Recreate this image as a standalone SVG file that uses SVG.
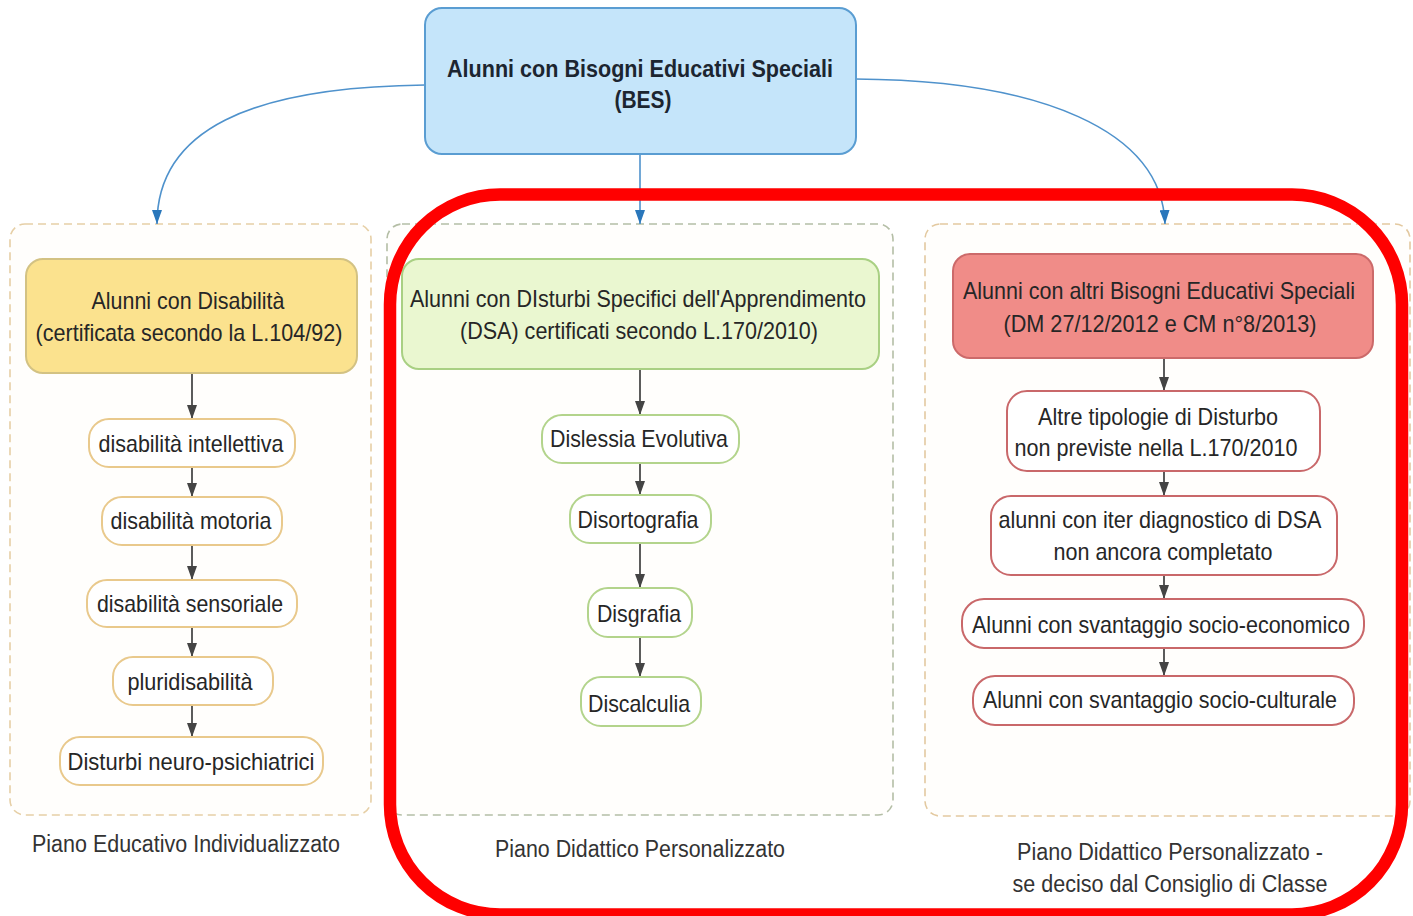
<svg xmlns="http://www.w3.org/2000/svg" width="1413" height="916" viewBox="0 0 1413 916">
<defs>
<style>
text{font-family:"Liberation Sans",Arial,sans-serif;fill:#262626;text-anchor:middle;font-size:24px}
.lbl{font-size:23px;fill:#333}
.bold{font-weight:bold;fill:#1c2530}
.cont{fill:#fffefc;stroke-width:1.6;stroke-dasharray:8 5}
.cl{stroke:#e6cfa6}
.cm{stroke:#b4bea6}
.cr{stroke:#e3c9a0}
.il{fill:#fff;stroke:#e9c98c;stroke-width:2}
.im{fill:#fff;stroke:#b3d48c;stroke-width:2}
.ir{fill:#fff;stroke:#c9686a;stroke-width:2}
.blue{fill:none;stroke:#4f92cc;stroke-width:1.6}
.gray{fill:none;stroke:#4a4a4a;stroke-width:1.8}
</style>
<marker id="ab" viewBox="0 0 14 10" refX="14" refY="5" markerWidth="14" markerHeight="10" orient="auto" markerUnits="userSpaceOnUse"><path d="M0,0 L14,5 L0,10 z" fill="#2a77bb"/></marker>
<marker id="ag" viewBox="0 0 14 10" refX="14" refY="5" markerWidth="14" markerHeight="10" orient="auto" markerUnits="userSpaceOnUse"><path d="M0,0 L14,5 L0,10 z" fill="#444"/></marker>
</defs>
<rect width="1413" height="916" fill="#fff"/>

<g id="containers">
<rect class="cont cl" x="10" y="224" width="361" height="591" rx="15"/>
<rect class="cont cm" x="387" y="224" width="506" height="591" rx="15"/>
<rect class="cont cr" x="925" y="224" width="485" height="592" rx="15"/>
</g>

<g id="connectors">
<path class="blue" d="M425,85 C250,87 157,130 157,224" marker-end="url(#ab)"/>
<path class="blue" d="M640,154 L640,224" marker-end="url(#ab)"/>
<path class="blue" d="M855,79 C1040,80 1162,130 1165,224" marker-end="url(#ab)"/>
<path class="gray" d="M192,373 L192,419" marker-end="url(#ag)"/>
<path class="gray" d="M192,467 L192,497" marker-end="url(#ag)"/>
<path class="gray" d="M192,545 L192,580" marker-end="url(#ag)"/>
<path class="gray" d="M192,627 L192,657" marker-end="url(#ag)"/>
<path class="gray" d="M192,705 L192,737" marker-end="url(#ag)"/>
<path class="gray" d="M640,369 L640,415" marker-end="url(#ag)"/>
<path class="gray" d="M640,463 L640,495" marker-end="url(#ag)"/>
<path class="gray" d="M640,543 L640,588" marker-end="url(#ag)"/>
<path class="gray" d="M640,637 L640,677" marker-end="url(#ag)"/>
<path class="gray" d="M1164,358 L1164,391" marker-end="url(#ag)"/>
<path class="gray" d="M1164,471 L1164,496" marker-end="url(#ag)"/>
<path class="gray" d="M1164,575 L1164,599" marker-end="url(#ag)"/>
<path class="gray" d="M1164,648 L1164,676" marker-end="url(#ag)"/>
</g>

<g id="bes">
<rect x="425" y="8" width="431" height="146" rx="17" fill="#c5e5fa" stroke="#5a9dd2" stroke-width="2"/>
<text class="bold" x="640" y="77" textLength="386" lengthAdjust="spacingAndGlyphs">Alunni con Bisogni Educativi Speciali</text>
<text class="bold" x="643" y="108" textLength="57" lengthAdjust="spacingAndGlyphs">(BES)</text>
</g>

<g id="disabilita">
<rect x="26" y="259" width="331" height="114" rx="17" fill="#fbe28e" stroke="#d3c283" stroke-width="2"/>
<text x="188" y="309" textLength="193" lengthAdjust="spacingAndGlyphs" fill="#3a3520">Alunni con Disabilità</text>
<text x="189" y="341" textLength="307" lengthAdjust="spacingAndGlyphs" fill="#3a3520">(certificata secondo la L.104/92)</text>
</g>
<g id="intellettiva"><rect class="il" x="89" y="419" width="206" height="48" rx="20"/><text x="191" y="452" textLength="185" lengthAdjust="spacingAndGlyphs">disabilità intellettiva</text></g>
<g id="motoria"><rect class="il" x="102" y="497" width="180" height="48" rx="20"/><text x="191" y="529" textLength="161" lengthAdjust="spacingAndGlyphs">disabilità motoria</text></g>
<g id="sensoriale"><rect class="il" x="87" y="580" width="210" height="47" rx="20"/><text x="190" y="612" textLength="186" lengthAdjust="spacingAndGlyphs">disabilità sensoriale</text></g>
<g id="pluridisabilita"><rect class="il" x="113" y="657" width="160" height="48" rx="20"/><text x="190" y="690" textLength="125" lengthAdjust="spacingAndGlyphs">pluridisabilità</text></g>
<g id="neuro"><rect class="il" x="60" y="737" width="263" height="48" rx="20"/><text x="191" y="770" textLength="247" lengthAdjust="spacingAndGlyphs">Disturbi neuro-psichiatrici</text></g>

<g id="dsa">
<rect x="402" y="259" width="477" height="110" rx="17" fill="#eaf7d0" stroke="#a9d083" stroke-width="2"/>
<text x="638" y="307" textLength="456" lengthAdjust="spacingAndGlyphs">Alunni con DIsturbi Specifici dell'Apprendimento</text>
<text x="639" y="339" textLength="358" lengthAdjust="spacingAndGlyphs">(DSA) certificati secondo L.170/2010)</text>
</g>
<g id="dislessia"><rect class="im" x="542" y="415" width="197" height="48" rx="20"/><text x="639" y="447" textLength="178" lengthAdjust="spacingAndGlyphs">Dislessia Evolutiva</text></g>
<g id="disortografia"><rect class="im" x="570" y="495" width="141" height="48" rx="20"/><text x="638" y="528" textLength="121" lengthAdjust="spacingAndGlyphs">Disortografia</text></g>
<g id="disgrafia"><rect class="im" x="588" y="588" width="104" height="49" rx="20"/><text x="639" y="622" textLength="84" lengthAdjust="spacingAndGlyphs">Disgrafia</text></g>
<g id="discalculia"><rect class="im" x="581" y="677" width="120" height="49" rx="20"/><text x="639" y="712" textLength="102" lengthAdjust="spacingAndGlyphs">Discalculia</text></g>

<g id="altri">
<rect x="953" y="254" width="420" height="104" rx="17" fill="#f08c88" stroke="#cc6a6a" stroke-width="2"/>
<text x="1159" y="299" textLength="392" lengthAdjust="spacingAndGlyphs">Alunni con altri Bisogni Educativi Speciali</text>
<text x="1160" y="332" textLength="313" lengthAdjust="spacingAndGlyphs">(DM 27/12/2012 e CM n°8/2013)</text>
</g>
<g id="altre-tipologie"><rect class="ir" x="1007" y="391" width="313" height="80" rx="20"/><text x="1158" y="425" textLength="240" lengthAdjust="spacingAndGlyphs">Altre tipologie di Disturbo</text><text x="1156" y="456" textLength="283" lengthAdjust="spacingAndGlyphs">non previste nella L.170/2010</text></g>
<g id="iter"><rect class="ir" x="991" y="496" width="346" height="79" rx="20"/><text x="1160" y="528" textLength="323" lengthAdjust="spacingAndGlyphs">alunni con iter diagnostico di DSA</text><text x="1163" y="560" textLength="219" lengthAdjust="spacingAndGlyphs">non ancora completato</text></g>
<g id="socio-economico"><rect class="ir" x="962" y="599" width="402" height="49" rx="22"/><text x="1161" y="633" textLength="378" lengthAdjust="spacingAndGlyphs">Alunni con svantaggio socio-economico</text></g>
<g id="socio-culturale"><rect class="ir" x="973" y="676" width="381" height="49" rx="22"/><text x="1160" y="708" textLength="354" lengthAdjust="spacingAndGlyphs">Alunni con svantaggio socio-culturale</text></g>

<g id="labels">
<text class="lbl" x="186" y="852" textLength="308" lengthAdjust="spacingAndGlyphs">Piano Educativo Individualizzato</text>
<text class="lbl" x="640" y="857" textLength="290" lengthAdjust="spacingAndGlyphs">Piano Didattico Personalizzato</text>
<text class="lbl" x="1170" y="860" textLength="306" lengthAdjust="spacingAndGlyphs">Piano Didattico Personalizzato -</text>
<text class="lbl" x="1170" y="892" textLength="315" lengthAdjust="spacingAndGlyphs">se deciso dal Consiglio di Classe</text>
</g>

<g id="highlight">
<rect x="390" y="194.5" width="1012" height="720" rx="110" fill="none" stroke="#ff0000" stroke-width="12.5"/>
</g>
</svg>
